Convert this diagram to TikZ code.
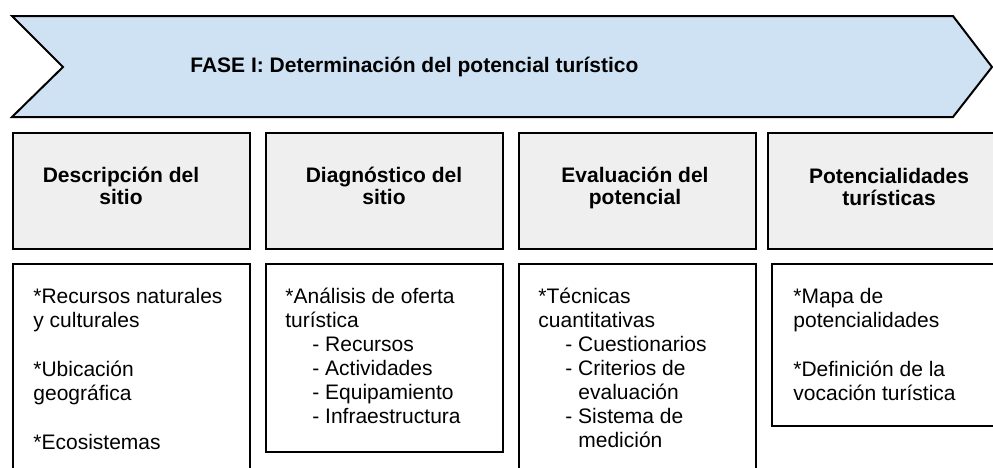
\documentclass[tikz,border=0pt]{standalone}
\usepackage{fontspec}
\setmainfont{Liberation Sans}
\usetikzlibrary{positioning, calc}

\definecolor{banblue}{RGB}{207,226,243}
\definecolor{headgray}{RGB}{239,239,239}

\tikzset{
  banner/.style={draw=black, line width=1pt, fill=banblue, line join=miter},
  headbox/.style={draw=black, line width=1pt, fill=headgray, anchor=north west,
    inner sep=0pt, minimum width=118.5pt, minimum height=58pt},
  bodybox/.style={draw=black, line width=1pt, fill=white, anchor=north west,
    inner sep=0pt, minimum width=118.5pt},
  fasetxt/.style={font=\bfseries\fontsize{10.5}{12}\selectfont, anchor=base west, inner sep=0pt},
  headtxt/.style={font=\bfseries\fontsize{10.5}{11}\selectfont, align=center, anchor=base, inner sep=0pt},
  bodytxt/.style={font=\fontsize{10.5}{12}\selectfont, align=left, anchor=base west, inner sep=0pt}
}
\newcommand{\subind}{\hspace*{13.5pt}}
\newcommand{\subcont}{\hspace*{20pt}}

\begin{document}
\begin{tikzpicture}[x=0.5pt,y=-0.5pt]
        \clip (0,0) rectangle (993,467);
%
        \draw[banner] (12,16) -- (953,16) -- (992,67) -- (953,117) -- (12,117) -- (63,67) -- cycle;
        \node[fasetxt] (fase) at (190,72) {FASE I: Determinación del potencial turístico};
%
        \node[headbox] (H1) at (12,132)  {};
        \node[headbox] (H2) at (265,132) {};
        \node[headbox] (H3) at (518,132) {};
        \node[headbox] (H4) at (767,132) {};
%
% base of a multi-line node = last line
        \node[headtxt] (T1) at (121,204) {Descripción del\\sitio};
        \node[headtxt] (T2) at (384,204) {Diagnóstico del\\sitio};
        \node[headtxt] (T3) at (635,204) {Evaluación del\\potencial};
        \node[headtxt] (T4) at (889,205) {Potencialidades\\turísticas};
%
        \node[bodybox, minimum height=108.5pt] (B1) at (12,263)  {};
        \node[bodybox, minimum height=94pt]    (B2) at (265,263) {};
        \node[bodybox, minimum height=108.5pt] (B3) at (518,263) {};
        \node[bodybox, minimum height=81pt]    (B4) at (771,263) {};
%
        \node[bodytxt] (L1) at (33,449) {*Recursos naturales\\y culturales\\[12.5pt]*Ubicación\\geográfica\\[12.5pt]*Ecosistemas};
        \node[bodytxt] (L2) at (285,423) {*Análisis de oferta\\turística\\\subind- Recursos\\\subind- Actividades\\\subind- Equipamiento\\\subind- Infraestructura};
        \node[bodytxt] (L3) at (538,447) {*Técnicas\\cuantitativas\\\subind- Cuestionarios\\\subind- Criterios de\\\subcont evaluación\\\subind- Sistema de\\\subcont medición};
        \node[bodytxt] (L4) at (793,400) {*Mapa de\\potencialidades\\[12.5pt]*Definición de la\\vocación turística};
      \end{tikzpicture}
\end{document}
